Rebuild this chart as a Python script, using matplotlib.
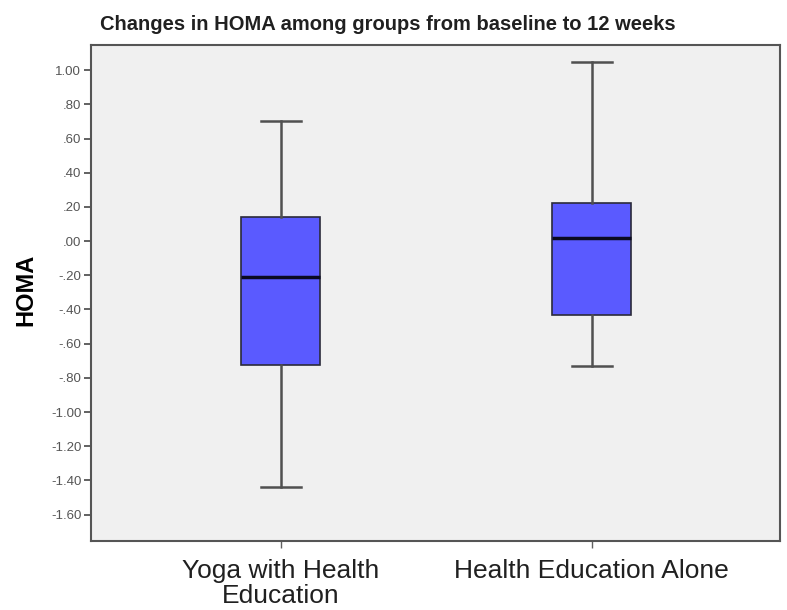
import matplotlib.pyplot as plt
from matplotlib.ticker import FuncFormatter

# HOMA change per group (baseline -> 12 weeks)
groups = ["Yoga with Health\nEducation", "Health Education Alone"]
whisker_low = [-1.44, -0.73]
q1 = [-0.725, -0.43]
median = [-0.21, 0.02]
q3 = [0.14, 0.22]
whisker_high = [0.70, 1.05]

yticks = [1.0, 0.8, 0.6, 0.4, 0.2, 0.0, -0.2, -0.4, -0.6, -0.8, -1.0, -1.2, -1.4, -1.6]

plt.rcParams['font.family'] = ['Liberation Sans', 'DejaVu Sans']

stats = []
for i in range(len(groups)):
    stats.append({
        "whislo": whisker_low[i], "q1": q1[i], "med": median[i],
        "q3": q3[i], "whishi": whisker_high[i], "fliers": [],
    })

fig = plt.figure(figsize=(7.87, 6.10), dpi=100)
ax = fig.add_axes([0.1156, 0.1131, 0.8754, 0.8129])
ax.set_facecolor("#f0f0f0")

ax.bxp(stats, positions=[0, 1], widths=0.254, patch_artist=True,
       showfliers=False,
       boxprops=dict(facecolor="#5a5aff", edgecolor="#2a2a3a", linewidth=1.2),
       medianprops=dict(color="#0a0a20", linewidth=2.5),
       whiskerprops=dict(color="#505050", linewidth=1.8),
       capprops=dict(color="#505050", linewidth=1.8),
       capwidths=0.127)

ax.set_xlim(-0.611, 1.605)
ax.set_ylim(-1.754, 1.146)
ax.set_yticks(yticks)


def fmt(v, pos):
    s = f"{v:.2f}"
    return s.replace("0.", ".", 1) if s.lstrip("-").startswith("0.") else s


ax.yaxis.set_major_formatter(FuncFormatter(fmt))
ax.set_xticks([0, 1])
ax.set_xticklabels(groups, fontsize=19, color="#202020", linespacing=1.05)
ax.tick_params(axis="y", labelsize=9.5, colors="#555555", length=5, width=1.3,
               pad=2)
ax.tick_params(axis="x", length=5, width=1.0, colors="#606060", pad=8,
               labelcolor="#202020")

for side in ax.spines.values():
    side.set_color("#555555")
    side.set_linewidth(1.5)

ax.set_ylabel("HOMA", fontsize=17, fontweight="bold")
ax.yaxis.set_label_coords(-0.078, 0.506)

fig.text(100 / 787, 1 - 24 / 610,
         "Changes in HOMA among groups from baseline to 12 weeks",
         fontsize=14.5, fontweight="bold", color="#202020", va="center",
         ha="left")

fig.savefig("out.png", dpi=100)
